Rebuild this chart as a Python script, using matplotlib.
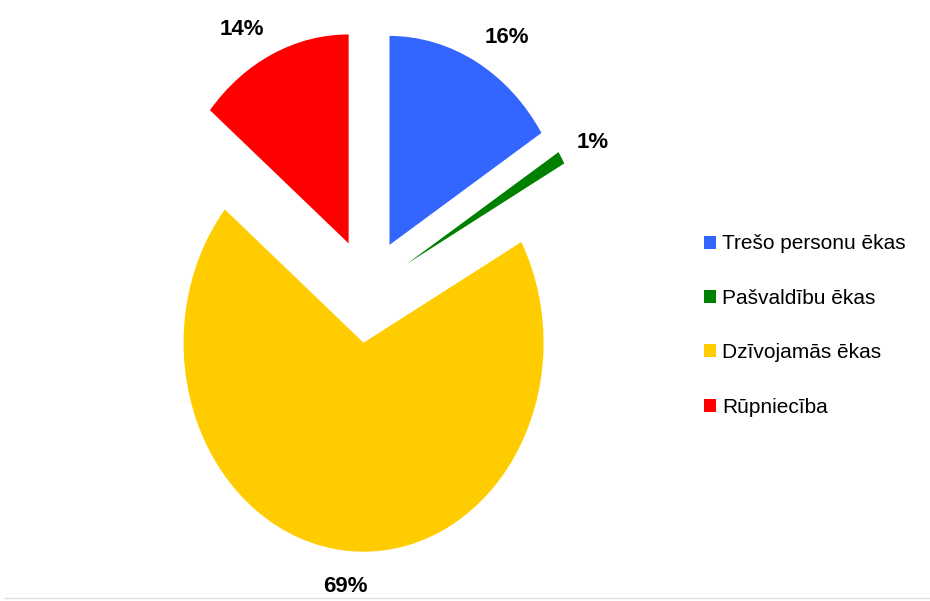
import numpy as np
import matplotlib
matplotlib.use("Agg")
import matplotlib.pyplot as plt
from matplotlib.lines import Line2D

categories = ["Trešo personu ēkas", "Pašvaldību ēkas", "Dzīvojamās ēkas", "Rūpniecība"]
shares = [16, 1, 69, 14]
colors = ["#3366ff", "#008000", "#ffcc00", "#ff0000"]

plt.rcParams["font.family"] = ["Liberation Sans", "DejaVu Sans"]

fig = plt.figure(figsize=(9.30, 6.01), dpi=100)
ax = fig.add_axes([0, 0, 1, 1])

wedges, _ = ax.pie(
    shares,
    colors=colors,
    startangle=90,
    counterclock=False,
    explode=[0.25] * len(shares),
    wedgeprops=dict(linewidth=0),
)

# percentage labels just outside each wedge's outer edge
total = sum(shares)
for w, v in zip(wedges, shares):
    ang = np.deg2rad((w.theta1 + w.theta2) / 2)
    c, s = np.cos(ang), np.sin(ang)
    x = w.center[0] + 1.1 * w.r * c
    y = w.center[1] + 1.1 * w.r * s
    ha = "left" if c > 0.15 else ("right" if c < -0.15 else "center")
    if s > 0.6:
        va = "baseline"
    elif s < -0.6:
        va = "top"
        y -= 0.02 * w.r
    else:
        va = "center"
        y += 0.02 * w.r
    ax.text(x, y, f"{100 * v / total:.0f}%", ha=ha, va=va,
            fontsize=16, fontweight="bold", color="black")

# stretched pie: horizontal radius 180 px, vertical radius 209 px
ax.set_aspect("auto")
cx, cy = 367.8, 310.3
ax.set_xlim(-cx / 180, (930 - cx) / 180)
ax.set_ylim(-cy / 209, (601 - cy) / 209)
ax.axis("off")

fig.legend(
    wedges, categories,
    loc="center left", bbox_to_anchor=(0.757, 0.4584),
    frameon=False, fontsize=15,
    handlelength=0.58, handleheight=0.58, handletextpad=0.3,
    labelspacing=1.7, borderpad=0, borderaxespad=0,
)

fig.add_artist(Line2D([0.005, 1.0], [0.005, 0.005], color="#e0e0e0", linewidth=1))

fig.savefig("out.png", dpi=100)
